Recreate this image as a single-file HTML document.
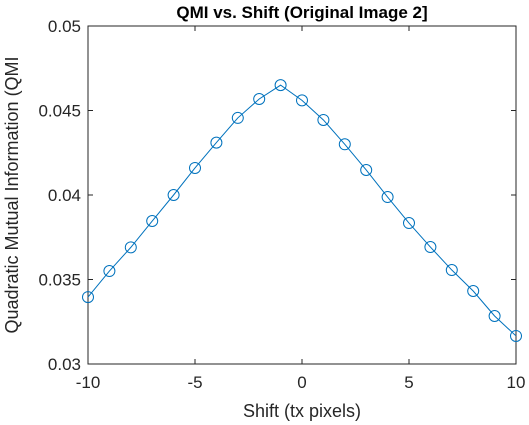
<!DOCTYPE html>
<html><head><meta charset="utf-8"><style>body{margin:0;background:#fff}svg{display:block;font-family:"Liberation Sans",sans-serif}</style></head>
<body>
<svg width="529" height="425" viewBox="0 0 529 425" xmlns="http://www.w3.org/2000/svg">
<rect x="0" y="0" width="529" height="425" fill="#fff"/>
<g id="axes"></g>
<g id="series"></g>
<text x="302" y="18" text-anchor="middle" font-size="17" font-weight="bold" fill="#000">QMI vs. Shift (Original Image 2]</text>
<text x="302" y="417" text-anchor="middle" font-size="18" fill="#262626">Shift (tx pixels)</text>
<text transform="translate(18,195) rotate(-90)" text-anchor="middle" font-size="18" fill="#262626">Quadratic Mutual Information (QMI</text>
</svg>
<script>
const shifts=[-10,-9,-8,-7,-6,-5,-4,-3,-2,-1,0,1,2,3,4,5,6,7,8,9,10];
const qmi=[0.03396,0.0355,0.0369,0.03846,0.0400,0.0416,0.0431,0.04456,0.04568,0.0465,0.0456,0.04444,0.0430,0.04148,0.03988,0.03834,0.03692,0.03556,0.03432,0.03284,0.03166];
const xTicks=[-10,-5,0,5,10];
const yTicks=[0.03,0.035,0.04,0.045,0.05];
const yTickLabels=["0.03","0.035","0.04","0.045","0.05"];
const L=88,R=516,T=26,B=364;
const xs=v=>L+(v+10)/20*(R-L);
const ys=v=>B-(v-0.03)/0.02*(B-T);
const NS="http://www.w3.org/2000/svg";
function mk(tag,attrs,parent){const e=document.createElementNS(NS,tag);for(const k in attrs)e.setAttribute(k,attrs[k]);parent.appendChild(e);return e;}
const ax=document.getElementById('axes');
const box=mk('rect',{x:L,y:T,width:R-L,height:B-T,fill:'none',stroke:'#262626','stroke-width':1},ax);


xTicks.forEach(v=>{
  const x=xs(v);
  mk('line',{x1:x,x2:x,y1:B,y2:B-5,stroke:'#262626'},ax);
  mk('line',{x1:x,x2:x,y1:T,y2:T+5,stroke:'#262626'},ax);
  const t=mk('text',{x:x,y:B+24,'text-anchor':'middle','font-size':17,fill:'#262626'},ax);
  t.textContent=String(v);
  
  
});
yTicks.forEach((v,i)=>{
  const y=ys(v);
  mk('line',{x1:L,x2:L+5,y1:y,y2:y,stroke:'#262626'},ax);
  mk('line',{x1:R,x2:R-5,y1:y,y2:y,stroke:'#262626'},ax);
  const t=mk('text',{x:L-7,y:y+6,'text-anchor':'end','font-size':17,fill:'#262626'},ax);
  t.textContent=yTickLabels[i];
  
  
});
const sg=document.getElementById('series');
const line=mk('polyline',{points:shifts.map((s,i)=>xs(s)+','+ys(qmi[i])).join(' '),fill:'none',stroke:'#0072BD','stroke-width':1},sg);


shifts.forEach((s,i)=>{
  const c=mk('circle',{cx:xs(s),cy:ys(qmi[i]),r:5.5,fill:'none',stroke:'#0072BD','stroke-width':1},sg);
  
  
});
</script>
</body></html>
